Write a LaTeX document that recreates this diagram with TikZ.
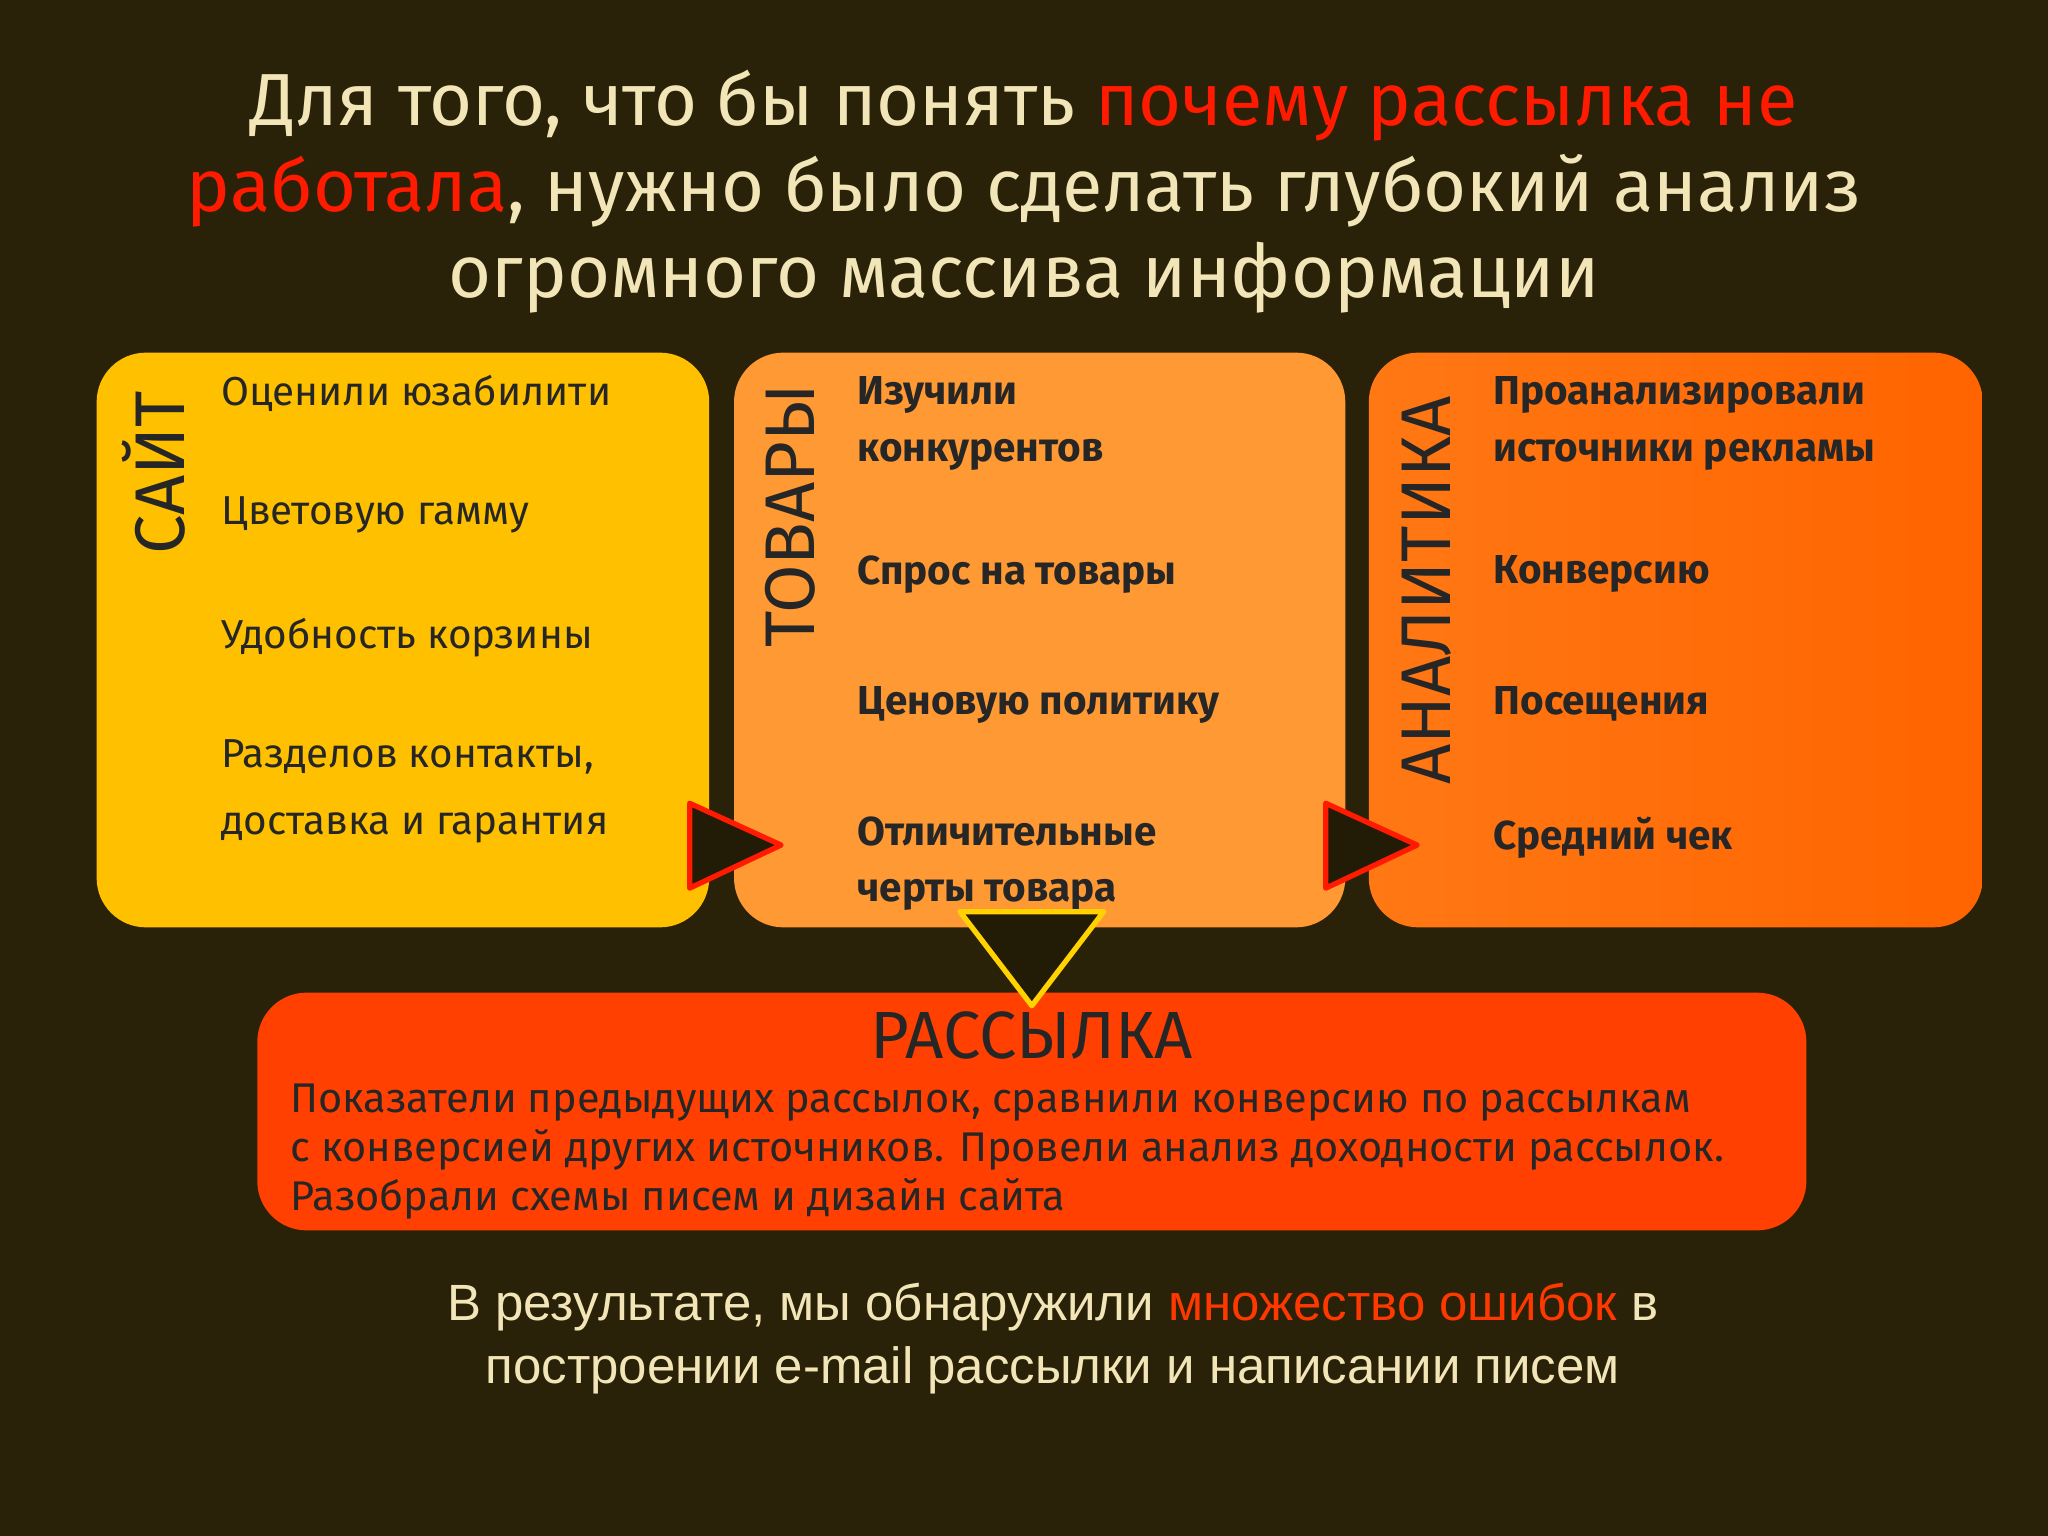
\documentclass[tikz,border=0pt]{standalone}
\usepackage{fontspec}
\setmainfont{Fira Sans}
\newfontfamily\arialf{Liberation Sans}
\begin{document}
\begin{tikzpicture}[x=0.013061cm,y=-0.013061cm,
 box/.style={rounded corners=14pt},
 item/.style={anchor=north west,align=left,font=\fontsize{11.5}{16}\selectfont\color{black!85}},
 bitem/.style={item,font=\fontsize{11.5}{16}\selectfont\bfseries\color{black!85}},
 side/.style={rotate=90,font=\fontsize{20}{22}\selectfont,text=black!85}]
\definecolor{bg}{HTML}{2A2208}
\definecolor{tit}{HTML}{F2E6B8}
\definecolor{red1}{HTML}{FF1A00}
\fill[bg] (0,0) rectangle (1568,1176);
\useasboundingbox (0,0) rectangle (1568,1176);
\node[align=center,text=tit,font=\fontsize{21}{24.5}\selectfont] (title) at (784,147)
 {Для того, что бы понять \textcolor{red1}{почему рассылка не}\\\textcolor{red1}{работала}, нужно было сделать глубокий анализ\\огромного массива информации};
\fill[box,fill={rgb,255:red,255;green,192;blue,0}] (74,270) rectangle (543,710);
\fill[box,fill={rgb,255:red,255;green,153;blue,51}] (562,270) rectangle (1030,710);
\shade[box,left color={rgb,255:red,255;green,120;blue,20},right color={rgb,255:red,255;green,100;blue,0}] (1048,270) rectangle (1518,710);
\fill[box,fill={rgb,255:red,255;green,64;blue,0}] (197,760) rectangle (1383,942);
\node[side] (s1) at (118,362) {САЙТ};
\node[side] (s2) at (605,395) {ТОВАРЫ};
\node[side] (s3) at (1092,452) {АНАЛИТИКА};
\node[item] (a1) at (160,278) {Оценили юзабилити};
\node[item] (a2) at (160,371) {Цветовую гамму};
\node[item] (a3) at (160,464) {Удобность корзины};
\node[item,font=\fontsize{11.5}{19}\selectfont\color{black!85}] (a4) at (160,557) {Разделов контакты,\\доставка и гарантия};
\node[bitem] (b1) at (647,279) {Изучили\\конкурентов};
\node[bitem] (b2) at (647,416) {Спрос на товары};
\node[bitem] (b3) at (647,516) {Ценовую политику};
\node[bitem] (b4) at (647,616) {Отличительные\\черты товара};
\node[bitem] (c1) at (1134,279) {Проанализировали\\источники рекламы};
\node[bitem] (c2) at (1134,416) {Конверсию};
\node[bitem] (c3) at (1134,516) {Посещения};
\node[bitem] (c4) at (1134,616) {Средний чек};
\fill[bg!80!black,draw=red1,line width=1.5pt,line join=round] (528,615)--(598,647)--(528,680)--cycle;
\fill[bg!80!black,draw=red1,line width=1.5pt,line join=round] (1015,615)--(1085,647)--(1015,680)--cycle;
\fill[bg!80!black,draw={rgb,255:red,255;green,210;blue,0},line width=1.5pt,line join=round] (735,698)--(845,698)--(790,770)--cycle;
\node[font=\fontsize{19}{22}\selectfont,text=black!85] (r) at (790,793) {РАССЫЛКА};
\node[anchor=north west,align=left,font=\fontsize{11.8}{14}\selectfont\color{black!85}] (rt) at (213,820)
 {Показатели предыдущих рассылок, сравнили конверсию по рассылкам\\с конверсией других источников. Провели анализ доходности рассылок.\\Разобрали схемы писем и дизайн сайта};
\node[align=center,text=tit,font=\arialf\fontsize{14.5}{18}\selectfont] (res) at (806,1025)
 {В результате, мы обнаружили \textcolor{red1!70!orange}{множество ошибок} в\\построении e-mail рассылки и написании писем};
\end{tikzpicture}
\end{document}
